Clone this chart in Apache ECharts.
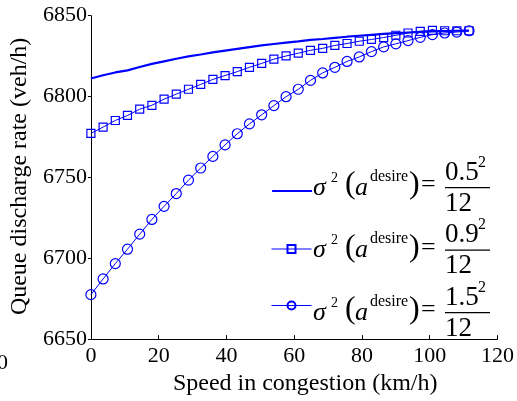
<!DOCTYPE html>
<html>
<head>
<meta charset="utf-8">
<script src="https://cdn.jsdelivr.net/npm/echarts@6/dist/echarts.min.js"></script>
<style>
html,body{margin:0;padding:0;background:#fff;}
#chart{width:517px;height:401px;}
</style>
</head>
<body>
<div id="chart"></div>
<script>
// Speed in congestion (km/h)
var speed = [0,3.6,7.2,10.8,14.4,18,21.6,25.2,28.8,32.4,36,39.6,43.2,46.8,50.4,54,57.6,61.2,64.8,68.4,72,75.6,79.2,82.8,86.4,90,93.6,97.2,100.8,104.4,108,111.6];
// Queue discharge rate (veh/h) for sigma^2 = 0.5^2/12
var rateLow = [6811.2,6813.2,6814.9,6816.2,6818.3,6820.2,6821.8,6823.4,6824.8,6826.0,6827.3,6828.4,6829.5,6830.6,6831.6,6832.5,6833.3,6834.1,6835.0,6835.6,6836.3,6837.0,6837.6,6838.2,6838.7,6839.2,6839.6,6840.0,6840.3,6840.5,6840.7,6840.8];
// sigma^2 = 0.9^2/12
var rateMid = [6777.2,6781.1,6785.2,6788.3,6792.2,6794.6,6798.4,6801.5,6804.5,6807.5,6810.6,6813.0,6815.4,6818.1,6820.5,6823.1,6825.1,6826.8,6828.6,6829.8,6831.6,6832.8,6834.2,6835.3,6836.5,6837.9,6839.3,6840.3,6840.9,6840.7,6840.7,6840.7];
// sigma^2 = 1.5^2/12
var rateHigh = [6677.5,6687.2,6696.7,6705.6,6714.9,6724.0,6732.1,6740.0,6748.3,6755.8,6763.0,6770.1,6777.0,6783.1,6788.7,6794.4,6799.9,6804.5,6810.0,6814.6,6818.1,6821.7,6824.5,6827.8,6830.7,6832.6,6834.6,6836.6,6838.3,6839.3,6839.9,6840.7];
var seriesNames = ['s05','s09','s15'];
var numerators = ['0.5','0.9','1.5'];
var xTicks = {min:0, max:120, interval:20};
var yTicks = {min:6650, max:6850, interval:50};

function pairs(xs, ys){ return xs.map(function(x,i){return [x, ys[i]];}); }

var FONT = 'Liberation Serif';
var BLUE = '#0000ff';

function formula(num, cy){
  var els = [];
  function t(txt, x, y, size, italic){
    els.push({type:'text', x:x, y:y, z:10, style:{text:txt, fill:'#000', fontFamily:FONT, fontSize:size, fontStyle:(italic?'italic':'normal'), verticalAlign:'middle', align:'left'}});
  }
  t('\u03c3', 313, cy+0.2, 26, true);
  t('2', 331, cy-9.4, 14, false);
  t('(', 345, cy-2.8, 32, false);
  t('a', 355, cy+0.2, 26, true);
  t('desire', 370, cy-11.1, 16, false);
  t(')', 409, cy-2.8, 32, false);
  t('=', 421, cy-2.3, 26, false);
  t(num, 445, cy-14.8, 27, false);
  t('2', 478, cy-25.1, 16, false);
  els.push({type:'line', z:10, shape:{x1:445, y1:cy, x2:490, y2:cy}, style:{stroke:'#000', lineWidth:1.2}});
  t('12', 445, cy+16.2, 27, false);
  return els;
}

var graphics = [].concat(
  formula(numerators[0], 187.7),
  formula(numerators[1], 250.2),
  formula(numerators[2], 312.7),
  [{type:'text', x:-3, y:363, style:{text:'0', fill:'#000', fontFamily:FONT, fontSize:22, verticalAlign:'middle'}}]
);

var legendCenters = [191, 249, 305.5];
function legendFor(i){
  var l = {data:[seriesNames[i]], left:271, top:legendCenters[i]-5, padding:0, itemWidth:40, itemHeight:10, itemGap:0,
    formatter:function(){return '';}, textStyle:{fontSize:1}, selectedMode:false,
    lineStyle:{width:(i === 0 ? 2.2 : 1)}};
  if (i === 0) { l.itemStyle = {color:'rgba(0,0,0,0)', borderColor:'rgba(0,0,0,0)', borderWidth:0}; }
  return l;
}

var chart = echarts.init(document.getElementById('chart'), null, {renderer:'canvas'});
chart.setOption({
  animation:false,
  backgroundColor:'#fff',
  grid:{left:90, right:17, top:15.7, bottom:55.7, containLabel:false},
  xAxis:{type:'value', min:xTicks.min, max:xTicks.max, interval:xTicks.interval,
    name:'Speed in congestion (km/h)', nameLocation:'middle', nameGap:26,
    nameTextStyle:{fontFamily:FONT, fontSize:24, color:'#000', padding:[0,0,0,22]},
    axisLine:{show:true, lineStyle:{color:'#000', width:1}},
    axisTick:{show:true, inside:true, length:4, lineStyle:{color:'#000'}},
    axisLabel:{fontFamily:FONT, fontSize:22, color:'#000', margin:6, formatter:function(v){return String(v);}},
    splitLine:{show:false}},
  yAxis:{type:'value', min:yTicks.min, max:yTicks.max, interval:yTicks.interval,
    name:'Queue discharge rate (veh/h)', nameLocation:'middle', nameGap:52,
    nameTextStyle:{fontFamily:FONT, fontSize:24, color:'#000', padding:[0,0,0,2]},
    axisLine:{show:true, lineStyle:{color:'#000', width:1}},
    axisTick:{show:true, inside:false, length:3, lineStyle:{color:'#000'}},
    axisLabel:{fontFamily:FONT, fontSize:22, color:'#000', margin:4, formatter:function(v){return String(v);}},
    splitLine:{show:false}},
  legend:[legendFor(0), legendFor(1), legendFor(2)],
  graphic:graphics,
  series:[
    {name:seriesNames[2], type:'line', data:pairs(speed, rateHigh), symbol:'circle', symbolSize:10, showAllSymbol:true,
      lineStyle:{color:BLUE, width:1}, itemStyle:{color:'rgba(0,0,0,0)', borderColor:BLUE, borderWidth:1.2}, z:2},
    {name:seriesNames[1], type:'line', data:pairs(speed, rateMid), symbol:'rect', symbolSize:8, showAllSymbol:true,
      lineStyle:{color:BLUE, width:1}, itemStyle:{color:'rgba(0,0,0,0)', borderColor:BLUE, borderWidth:1.2}, z:3},
    {name:seriesNames[0], type:'line', data:pairs(speed, rateLow), showSymbol:false, symbol:'none',
      lineStyle:{color:BLUE, width:2.2}, itemStyle:{color:BLUE}, z:4}
  ]
});
</script>
</body>
</html>
